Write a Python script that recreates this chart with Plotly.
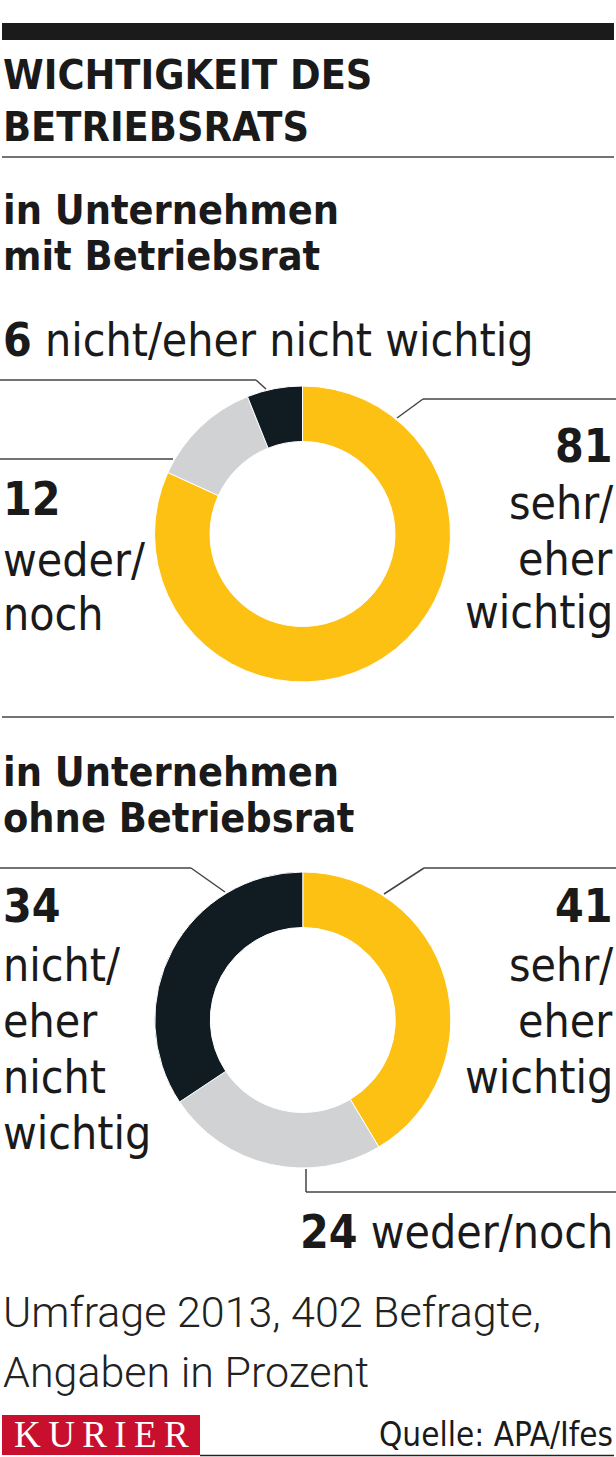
import plotly.graph_objects as go

W, H = 616, 1457

# data
segments = ["sehr/eher wichtig", "weder/noch", "nicht/eher nicht wichtig"]
mit_betriebsrat = [81, 12, 6]
ohne_betriebsrat = [41, 24, 34]
seg_colors = ["#fdc113", "#d1d2d4", "#111b22"]

title_lines = ["WICHTIGKEIT DES", "BETRIEBSRATS"]
sub_mit = ["in Unternehmen", "mit Betriebsrat"]
sub_ohne = ["in Unternehmen", "ohne Betriebsrat"]
footnote = ["Umfrage 2013, 402 Befragte,", "Angaben in Prozent"]
source = "Quelle: APA/Ifes"

COND = "DejaVu Sans Condensed, DejaVu Sans, sans-serif"
INK = "#1a1a1a"
RULE = "#444444"


def px(x):
    return x / W


def py(y):
    return 1 - y / H


annotations = []
shapes = []


def text(x, base, s, size, align="left", family=COND, color=INK, weight=None):
    font = dict(family=family, size=size, color=color)
    if weight:
        font["weight"] = weight
    annotations.append(dict(
        x=px(x), y=py(base - 0.35 * size), xref="paper", yref="paper",
        text=s, showarrow=False, xanchor=align, yanchor="middle",
        font=font, borderpad=0,
    ))


def line(x0, y0, x1, y1, color=RULE, width=1.5):
    shapes.append(dict(type="line", xref="paper", yref="paper",
                       x0=px(x0), y0=py(y0), x1=px(x1), y1=py(y1),
                       line=dict(color=color, width=width)))


def rect(x0, y0, x1, y1, color):
    shapes.append(dict(type="rect", xref="paper", yref="paper",
                       x0=px(x0), y0=py(y0), x1=px(x1), y1=py(y1),
                       fillcolor=color, line=dict(width=0), layer="below"))


def donut(values, cx, cy, r=148):
    return go.Pie(
        values=values, labels=segments, sort=False,
        direction="clockwise", rotation=0, hole=0.625,
        marker=dict(colors=seg_colors, line=dict(color="white", width=1)),
        textinfo="none", hoverinfo="label+value", showlegend=False,
        domain=dict(x=[px(cx - r), px(cx + r)], y=[py(cy + r), py(cy - r)]),
    )


fig = go.Figure()
fig.add_trace(donut(mit_betriebsrat, 302.5, 534))
fig.add_trace(donut(ohne_betriebsrat, 302.8, 1020))

# header
rect(2, 23, 614, 40, "#1b1b1b")
text(2, 89, "<b>%s</b>" % title_lines[0], 41)
text(2, 141, "<b>%s</b>" % title_lines[1], 41)
line(2, 157, 614, 157)

# first donut
text(2, 224, "<b>%s</b>" % sub_mit[0], 41)
text(2, 270, "<b>%s</b>" % sub_mit[1], 41)
text(2, 356, "<b>%d</b> nicht/eher nicht wichtig" % mit_betriebsrat[2], 46)
line(0, 380, 256, 380)
line(256, 380, 266, 389)
line(0, 459, 173, 459)
line(616, 399, 423, 399)
line(423, 399, 397, 418)

text(2, 515, "<b>%d</b>" % mit_betriebsrat[1], 46)
text(2, 576, "weder/", 46)
text(2, 630, "noch", 46)

text(614, 462, "<b>%d</b>" % mit_betriebsrat[0], 46, align="right")
text(614, 519, "sehr/", 46, align="right")
text(614, 575, "eher", 46, align="right")
text(614, 628, "wichtig", 46, align="right")

line(2, 717, 614, 717)

# second donut
text(2, 786, "<b>%s</b>" % sub_ohne[0], 41)
text(2, 832, "<b>%s</b>" % sub_ohne[1], 41)

line(0, 868, 191, 868)
line(191, 868, 225, 892)
line(616, 868, 424, 868)
line(424, 868, 384, 894)
line(306, 1169, 306, 1192)
line(306, 1192, 616, 1192)

text(2, 922, "<b>%d</b>" % ohne_betriebsrat[2], 46)
for i, w in enumerate(["nicht/", "eher", "nicht", "wichtig"]):
    text(2, 981 + 56 * i, w, 46)

text(614, 922, "<b>%d</b>" % ohne_betriebsrat[0], 46, align="right")
for i, w in enumerate(["sehr/", "eher", "wichtig"]):
    text(614, 981 + 56 * i, w, 46, align="right")

text(614, 1248, "<b>%d</b> weder/noch" % ohne_betriebsrat[1], 46, align="right")

# footer
text(2, 1327, footnote[0], 43, family="Roboto, sans-serif", color="#222222", weight=300)
text(2, 1387, footnote[1], 43, family="Roboto, sans-serif", color="#222222", weight=300)

rect(2, 1415, 200, 1455, "#c8102e")
text(101, 1447, "\u2009".join("KURIER"), 37, align="center",
     family="Liberation Serif, serif", color="white")
text(614, 1446, source, 33, align="right")
line(200, 1455.5, 614, 1455.5, color="#222222")

fig.update_layout(
    width=W, height=H,
    margin=dict(l=0, r=0, t=0, b=0),
    paper_bgcolor="white", plot_bgcolor="white",
    shapes=shapes, annotations=annotations,
)

# page body has a default margin; drop it so the figure fills the window
fig.write_html("out.html", config={"displayModeBar": False},
               post_script="document.body.style.margin='0';")
